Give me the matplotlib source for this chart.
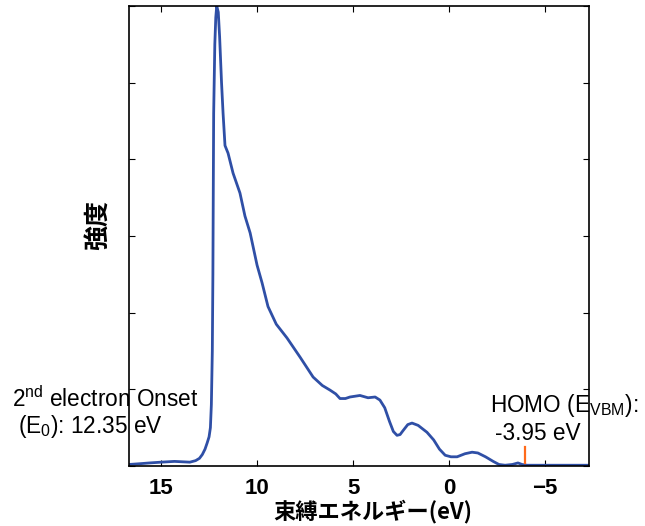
import matplotlib.pyplot as plt
import numpy as np

plt.rcParams['font.family'] = ['Liberation Sans', 'Noto Sans CJK JP', 'DejaVu Sans']
plt.rcParams['mathtext.fontset'] = 'custom'
plt.rcParams['mathtext.rm'] = 'Liberation Sans'
plt.rcParams['mathtext.it'] = 'Liberation Sans'

# binding energy (eV) and intensity (a.u.)
energy = [16.67, 16.1, 15.6, 15.0, 14.3, 13.5, 13.2, 13.0, 12.85, 12.71, 12.6,
          12.5, 12.43, 12.38, 12.33, 12.30, 12.28, 12.26, 12.2, 12.15, 12.10,
          12.02, 11.95, 11.85, 11.77, 11.67, 11.51, 11.25, 10.89, 10.63, 10.36,
          10.0, 9.74, 9.43, 9.0, 8.44, 7.76, 7.08, 6.6, 6.2, 5.9, 5.68, 5.4,
          5.16, 4.64, 4.22, 3.85, 3.6, 3.35, 3.1, 2.9, 2.71, 2.55, 2.40, 2.15,
          1.93, 1.61, 1.15, 0.8, 0.5, 0.2, -0.1, -0.42, -0.83, -1.2, -1.5, -1.9,
          -2.3, -2.6, -2.92, -3.3, -3.59, -3.8, -4.06, -4.74, -5.5, -7.29]
intensity = [0.02, 0.03, 0.04, 0.05, 0.06, 0.05, 0.07, 0.10, 0.15, 0.22, 0.30,
             0.38, 0.5, 0.8, 1.5, 2.5, 3.6, 4.6, 5.5, 5.85, 6.0,
             5.92, 5.6, 5.0, 4.6, 4.18, 4.08, 3.82, 3.56, 3.26, 3.04,
             2.62, 2.39, 2.08, 1.85, 1.67, 1.42, 1.16, 1.05, 0.99, 0.94, 0.88, 0.88,
             0.90, 0.92, 0.89, 0.90, 0.86, 0.76, 0.58, 0.45, 0.40, 0.41, 0.46, 0.54,
             0.56, 0.53, 0.44, 0.34, 0.22, 0.14, 0.12, 0.12, 0.16, 0.18, 0.17, 0.12,
             0.06, 0.02, 0.01, 0.02, 0.04, 0.02, 0.01, 0.01, 0.01, 0.01]

onset = 12.35
homo = -3.95
homo_mark = [0.04, 0.25]

xticks = [15, 10, 5, 0, -5]

fig = plt.figure(figsize=(6.45, 5.26), dpi=100)
ax = fig.add_axes([129/645, 60/526, 460/645, 460/526])

ax.plot(energy, intensity, color='#2f4fa6', lw=2.0)
ax.plot([homo, homo], homo_mark, color='#ff6a1a', lw=1.6)

ax.set_xlim(16.67, -7.29)
ax.set_ylim(0, 6)
ax.set_xticks(xticks)
ax.set_yticks(np.arange(0, 7))
ax.set_yticklabels([])
ax.tick_params(direction='in', top=True, right=True, length=4, width=0.8,
               labelsize=16, pad=9)
for lab in ax.get_xticklabels():
    lab.set_fontweight('bold')
for s in ax.spines.values():
    s.set_linewidth(1.2)

ax.set_xlabel('束縛エネルギー(eV)', fontsize=16, fontweight='bold',
              family=['Noto Sans CJK JP', 'DejaVu Sans'], va='center')
ax.xaxis.set_label_coords((373 - 129) / 460, (466 - 511) / 460)
ax.set_ylabel('強度', fontsize=18, fontweight='bold',
              family=['Noto Sans CJK JP', 'DejaVu Sans'], va='center')
ax.yaxis.set_label_coords((98 - 129) / 460, (466 - 225) / 460)

fs = 16.3
fig.text(12/645, 1 - 407/526, '2$^{\\mathrm{nd}}$ electron Onset', fontsize=fs,
         ha='left', va='baseline')
fig.text(18/645, 1 - 433/526, '(E$_{\\mathrm{0}}$): %.2f eV' % onset, fontsize=fs,
         ha='left', va='baseline')
fig.text(490/645, 1 - 412/526, 'HOMO (E$_{\\mathrm{VBM}}$):', fontsize=fs,
         ha='left', va='baseline')
fig.text(495/645, 1 - 440/526, '%.2f eV' % homo, fontsize=fs,
         ha='left', va='baseline')

fig.savefig('out.png', dpi=100)
